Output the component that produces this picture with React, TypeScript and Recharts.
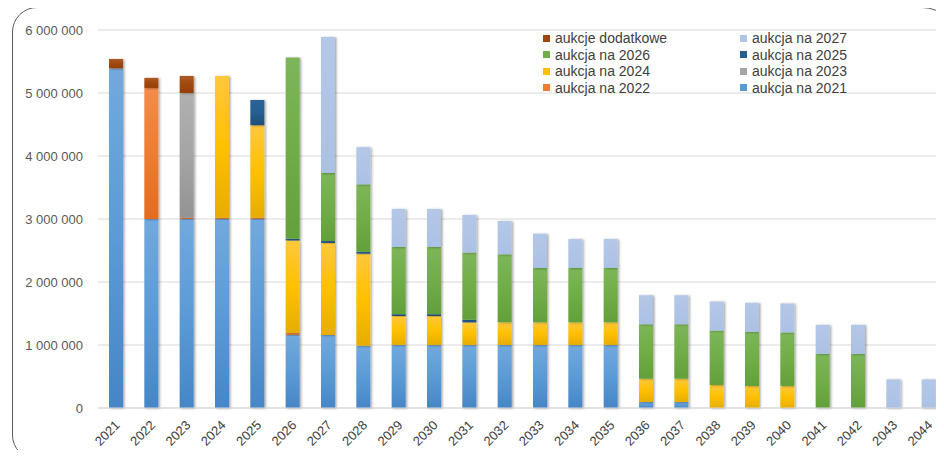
import React from 'react';
import { BarChart, Bar, XAxis, YAxis, CartesianGrid, Legend } from 'recharts';

const years = [
  '2021', '2022', '2023', '2024', '2025', '2026', '2027', '2028', '2029', '2030', '2031', '2032',
  '2033', '2034', '2035', '2036', '2037', '2038', '2039', '2040', '2041', '2042', '2043', '2044',
];

// wolumen w podziale na aukcje (od dołu stosu)
const aukcja2021 = [5390000, 3000000, 3000000, 3000000, 3000000, 1160000, 1160000, 990000, 1000000, 1000000, 1000000, 1000000, 1000000, 1000000, 1000000, 95000, 95000, 0, 0, 0, 0, 0, 0, 0];
const aukcja2022 = [0, 2080000, 20000, 20000, 20000, 30000, 0, 0, 0, 0, 0, 0, 0, 0, 0, 0, 0, 0, 0, 0, 0, 0, 0, 0];
const aukcja2023 = [0, 0, 1980000, 0, 0, 0, 0, 0, 0, 0, 0, 0, 0, 0, 0, 0, 0, 0, 0, 0, 0, 0, 0, 0];
const aukcja2024 = [0, 0, 0, 2250000, 1470000, 1470000, 1460000, 1460000, 460000, 460000, 360000, 360000, 360000, 360000, 360000, 370000, 370000, 365000, 350000, 350000, 0, 0, 0, 0];
const aukcja2025 = [0, 0, 0, 0, 400000, 25000, 30000, 30000, 30000, 30000, 40000, 0, 0, 0, 0, 0, 0, 0, 0, 0, 0, 0, 0, 0];
const aukcja2026 = [0, 0, 0, 0, 0, 2880000, 1080000, 1070000, 1066000, 1066000, 1068000, 1080000, 862000, 862000, 862000, 865000, 865000, 865000, 860000, 850000, 860000, 860000, 0, 0];
const aukcja2027 = [0, 0, 0, 0, 0, 0, 2160000, 590000, 604000, 604000, 595000, 528000, 545000, 460000, 460000, 460000, 460000, 460000, 460000, 460000, 460000, 460000, 455000, 455000];
const dodatkowe = [150000, 160000, 270000, 0, 0, 0, 0, 0, 0, 0, 0, 0, 0, 0, 0, 0, 0, 0, 0, 0, 0, 0, 0, 0];

const yTicks = [0, 1000000, 2000000, 3000000, 4000000, 5000000, 6000000];

const series = [
  { key: 'a2021', name: 'aukcja na 2021', values: aukcja2021, color: '#5B9BD5', light: '#72A9DE', dark: '#4686C6' },
  { key: 'a2022', name: 'aukcja na 2022', values: aukcja2022, color: '#ED7D31', light: '#F28C4C', dark: '#E46C1E' },
  { key: 'a2023', name: 'aukcja na 2023', values: aukcja2023, color: '#A5A5A5', light: '#B0B0B0', dark: '#939393' },
  { key: 'a2024', name: 'aukcja na 2024', values: aukcja2024, color: '#FFC000', light: '#FFC83D', dark: '#E6AD00' },
  { key: 'a2025', name: 'aukcja na 2025', values: aukcja2025, color: '#255E91', light: '#2A6299', dark: '#1F4E79' },
  { key: 'a2026', name: 'aukcja na 2026', values: aukcja2026, color: '#70AD47', light: '#7DB65A', dark: '#62A03A' },
  { key: 'a2027', name: 'aukcja na 2027', values: aukcja2027, color: '#B0C4E6', light: '#B4C7E7', dark: '#ABC1E4' },
  { key: 'dod', name: 'aukcje dodatkowe', values: dodatkowe, color: '#9E480E', light: '#AD5A26', dark: '#963F05' },
];

// kolejność jak w legendzie Excela (wierszami)
const legendOrder = ['dod', 'a2027', 'a2026', 'a2025', 'a2024', 'a2023', 'a2022', 'a2021'];

const data = years.map((y, i) => {
  const row: Record<string, number | string> = { year: y };
  series.forEach((s) => { row[s.key] = s.values[i]; });
  return row;
});

const fmt = (v: number) => String(v).replace(/\B(?=(\d{3})+(?!\d))/g, ' ');

const XTick = (props: any) => {
  const { x, y, payload } = props;
  return (
    <text
      x={x + 5}
      y={y + 10}
      transform={`rotate(-45, ${x + 5}, ${y + 10})`}
      textAnchor="end"
      fill="#404040"
      fontSize={13}
      fontFamily="Liberation Sans, Arial, sans-serif"
    >
      {payload.value}
    </text>
  );
};

const LegendBox = () => {
  const items = legendOrder.map((k) => series.find((s) => s.key === k)!);
  return (
    <div style={{ display: 'grid', gridTemplateColumns: '197px 120px', fontFamily: 'Liberation Sans, Arial, sans-serif', fontSize: 14, color: '#404040' }}>
      {items.map((s) => (
        <div key={s.key} style={{ display: 'flex', alignItems: 'center', height: 16.5, whiteSpace: 'nowrap' }}>
          <span style={{ width: 7, height: 7, background: s.color, marginRight: 5, display: 'inline-block' }} />
          {s.name}
        </div>
      ))}
    </div>
  );
};

export default function App() {
  return (
    <div style={{ position: 'relative', width: 944, height: 458, margin: -8, overflow: 'hidden', background: '#fff' }}>
      <div
        style={{
          position: 'absolute', left: 12, top: 7, width: 946, height: 453,
          border: '1px solid #595959', boxSizing: 'border-box',
          borderTopLeftRadius: 25, borderBottomLeftRadius: 25,
          borderTopRightRadius: 36, borderBottomRightRadius: 36,
        }}
      />
      <div style={{ position: 'absolute', left: 0, top: 0 }}>
        <BarChart width={946} height={458} data={data} margin={{ top: 30, right: 0, bottom: 0, left: 0 }} barSize={14}>
          <defs>
            {series.map((s) => (
              <linearGradient key={s.key} id={`g-${s.key}`} x1="0" y1="0" x2="0" y2="1">
                <stop offset="0%" stopColor={s.light} />
                <stop offset="50%" stopColor={s.color} />
                <stop offset="100%" stopColor={s.dark} />
              </linearGradient>
            ))}
            <filter id="sh" x="-30%" y="-10%" width="160%" height="130%">
              <feDropShadow dx="1.5" dy="0.5" stdDeviation="1.2" floodColor="#000" floodOpacity="0.35" />
            </filter>
          </defs>
          <CartesianGrid vertical={false} stroke="#d9d9d9" />
          <XAxis
            dataKey="year"
            height={50}
            interval={0}
            tickLine={false}
            axisLine={{ stroke: '#d9d9d9' }}
            tick={<XTick />}
          />
          <YAxis
            width={98}
            domain={[0, 6000000]}
            ticks={yTicks}
            tickFormatter={fmt}
            tickLine={false}
            axisLine={false}
            tickMargin={9}
            tick={{ fill: '#595959', fontSize: 13, fontFamily: 'Liberation Sans, Arial, sans-serif' }}
          />
          <Legend
            layout="vertical"
            align="center"
            verticalAlign="middle"
            wrapperStyle={{ left: 543, top: 30, width: 330 }}
            content={<LegendBox />}
          />
          {series.map((s) => (
            <Bar
              key={s.key}
              dataKey={s.key}
              name={s.name}
              stackId="a"
              fill={`url(#g-${s.key})`}
              style={{ filter: 'url(#sh)' }}
              isAnimationActive={false}
            />
          ))}
        </BarChart>
      </div>
    </div>
  );
}
